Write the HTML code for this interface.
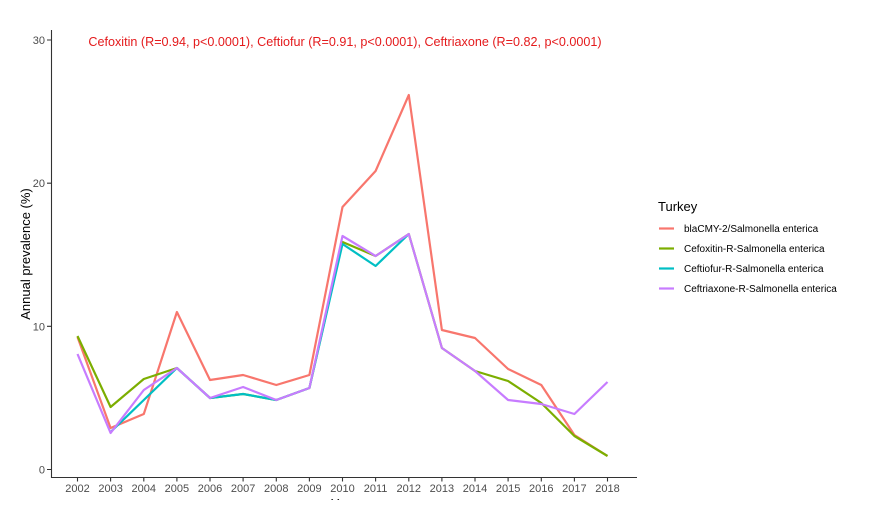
<!DOCTYPE html><html><head><style>body{margin:0;background:#fff}svg{display:block;font-family:"Liberation Sans",sans-serif}</style></head><body>
<svg width="886" height="521" viewBox="0 0 886 521">
<defs><clipPath id="c"><rect x="0" y="0" width="886" height="500"/></clipPath></defs>
<g stroke="#333" stroke-width="1.1" fill="none">
<path d="M51.5 30V477.5H637"/>
<path d="M47 469.5h4.5M47 326.3h4.5M47 183.2h4.5M47 40h4.5"/>
</g>
<g font-size="11" fill="#4d4d4d" text-anchor="end">
<text x="45" y="473.5">0</text><text x="45" y="330.3">10</text><text x="45" y="187.2">20</text><text x="45" y="44">30</text>
</g>
<g font-size="11" fill="#4d4d4d" text-anchor="middle">
<text x="77.5" y="492">2002</text><text x="110.6" y="492">2003</text><text x="143.8" y="492">2004</text><text x="176.9" y="492">2005</text><text x="210" y="492">2006</text><text x="243.1" y="492">2007</text><text x="276.3" y="492">2008</text><text x="309.4" y="492">2009</text><text x="342.5" y="492">2010</text><text x="375.6" y="492">2011</text><text x="408.8" y="492">2012</text><text x="441.9" y="492">2013</text><text x="475" y="492">2014</text><text x="508.1" y="492">2015</text><text x="541.3" y="492">2016</text><text x="574.4" y="492">2017</text><text x="607.5" y="492">2018</text>
</g>
<path stroke="#333" stroke-width="1.1" d="M77.5 477.5v4M110.6 477.5v4M143.8 477.5v4M176.9 477.5v4M210 477.5v4M243.1 477.5v4M276.3 477.5v4M309.4 477.5v4M342.5 477.5v4M375.6 477.5v4M408.8 477.5v4M441.9 477.5v4M475 477.5v4M508.1 477.5v4M541.3 477.5v4M574.4 477.5v4M607.5 477.5v4"/>
<text x="344" y="508" font-size="13" text-anchor="middle" fill="#000" clip-path="url(#c)">Year</text>
<text transform="translate(30 254) rotate(-90)" font-size="13" text-anchor="middle" fill="#000">Annual prevalence (%)</text>
<text x="345" y="46" font-size="12.6" text-anchor="middle" fill="#e41a1c">Cefoxitin (R=0.94, p&lt;0.0001), Ceftiofur (R=0.91, p&lt;0.0001), Ceftriaxone (R=0.82, p&lt;0.0001)</text>
<g fill="none" stroke-width="2.2" stroke-linejoin="round">
<polyline stroke="#f8766d" points="77.5,337 110.6,428 143.8,414 176.9,312 210,380 243.1,375 276.3,385 309.4,375 342.5,207 375.6,171 408.8,95 441.9,330 475,338 508.1,369 541.3,385 574.4,435 607.5,456"/>
<polyline stroke="#7cae00" points="77.5,336 110.6,407 143.8,379 176.9,368 210,398 243.1,394 276.3,400 309.4,388 342.5,242 375.6,256 408.8,234 441.9,348 475,371 508.1,381 541.3,403 574.4,436 607.5,456"/>
<polyline stroke="#00bfc4" points="110.6,432 143.8,400 176.9,368 210,398 243.1,394 276.3,400 309.4,388 342.5,244 375.6,266 408.8,234"/>
<polyline stroke="#c77cff" points="77.5,354 110.6,433 143.8,390 176.9,368 210,398 243.1,387 276.3,400 309.4,388 342.5,236 375.6,256 408.8,234 441.9,348 475,371 508.1,400 541.3,404 574.4,414 607.5,382"/>
</g>
<text x="658" y="211" font-size="13" fill="#000">Turkey</text>
<g stroke-width="2.2">
<line x1="659" x2="674" y1="228.5" y2="228.5" stroke="#f8766d"/>
<line x1="659" x2="674" y1="248.5" y2="248.5" stroke="#7cae00"/>
<line x1="659" x2="674" y1="268.5" y2="268.5" stroke="#00bfc4"/>
<line x1="659" x2="674" y1="288.5" y2="288.5" stroke="#c77cff"/>
</g>
<g font-size="10" fill="#000">
<text x="684" y="232">blaCMY-2/Salmonella enterica</text>
<text x="684" y="252">Cefoxitin-R-Salmonella enterica</text>
<text x="684" y="272">Ceftiofur-R-Salmonella enterica</text>
<text x="684" y="292">Ceftriaxone-R-Salmonella enterica</text>
</g>
</svg></body></html>
